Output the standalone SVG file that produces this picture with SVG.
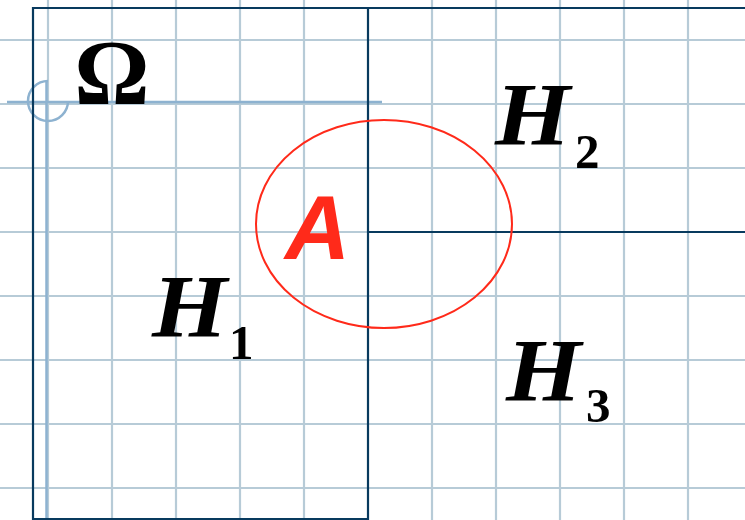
<svg xmlns="http://www.w3.org/2000/svg" width="745" height="520" viewBox="0 0 745 520">
<style>
.grid{stroke:#b7cbd7;stroke-width:2.2;fill:none}
.axis{stroke:#8db2d0;stroke-width:2.5;fill:none}
.frame{stroke:#083a5e;stroke-width:2.2;fill:none}
.h{font-family:"Liberation Serif","Times New Roman",serif;font-weight:bold;font-style:italic;font-size:88px;fill:#000}
.sub{font-family:"Liberation Serif","Times New Roman",serif;font-weight:bold;font-size:49px;fill:#000}
</style>
<rect width="745" height="520" fill="#fff"/>
<g id="grid">
<path class="grid" d="M48 0V520M112 0V520M176 0V520M240 0V520M304 0V520M432 0V520M496 0V520M560 0V520M624 0V520M688 0V520"/>
<path class="grid" d="M0 40H745M0 104H745M0 168H745M0 232H745M0 296H745M0 360H745M0 424H745M0 488H745"/>
</g>
<g id="axes">
<path class="axis" d="M7 102H382"/>
<path class="axis" d="M46.5 81V520"/>
<path class="axis" d="M48 81A20 20 0 1 0 68 101"/>
</g>
<g id="frame">
<path class="frame" d="M745 8H33V519H368M368 8V520M368 232H745"/>
</g>
<g id="omega">
<text x="112" y="104" text-anchor="middle" font-family="Liberation Serif, serif" font-weight="bold" font-size="94">Ω</text>
</g>
<g id="eventA">
<ellipse cx="384" cy="224" rx="128" ry="104" fill="none" stroke="#ff2a1a" stroke-width="2"/>
<text x="285" y="259" font-family="Liberation Sans, Arial, sans-serif" font-weight="bold" font-style="italic" font-size="90" fill="#ff2a1a">A</text>
</g>
<g id="H1">
<text class="h" transform="translate(152 336) scale(1.1 1)">H</text>
<text class="sub" x="229" y="359">1</text>
</g>
<g id="H2">
<text class="h" transform="translate(495 144) scale(1.1 1)">H</text>
<text class="sub" x="575" y="168">2</text>
</g>
<g id="H3">
<text class="h" transform="translate(506 400) scale(1.1 1)">H</text>
<text class="sub" x="586" y="422">3</text>
</g>
</svg>
